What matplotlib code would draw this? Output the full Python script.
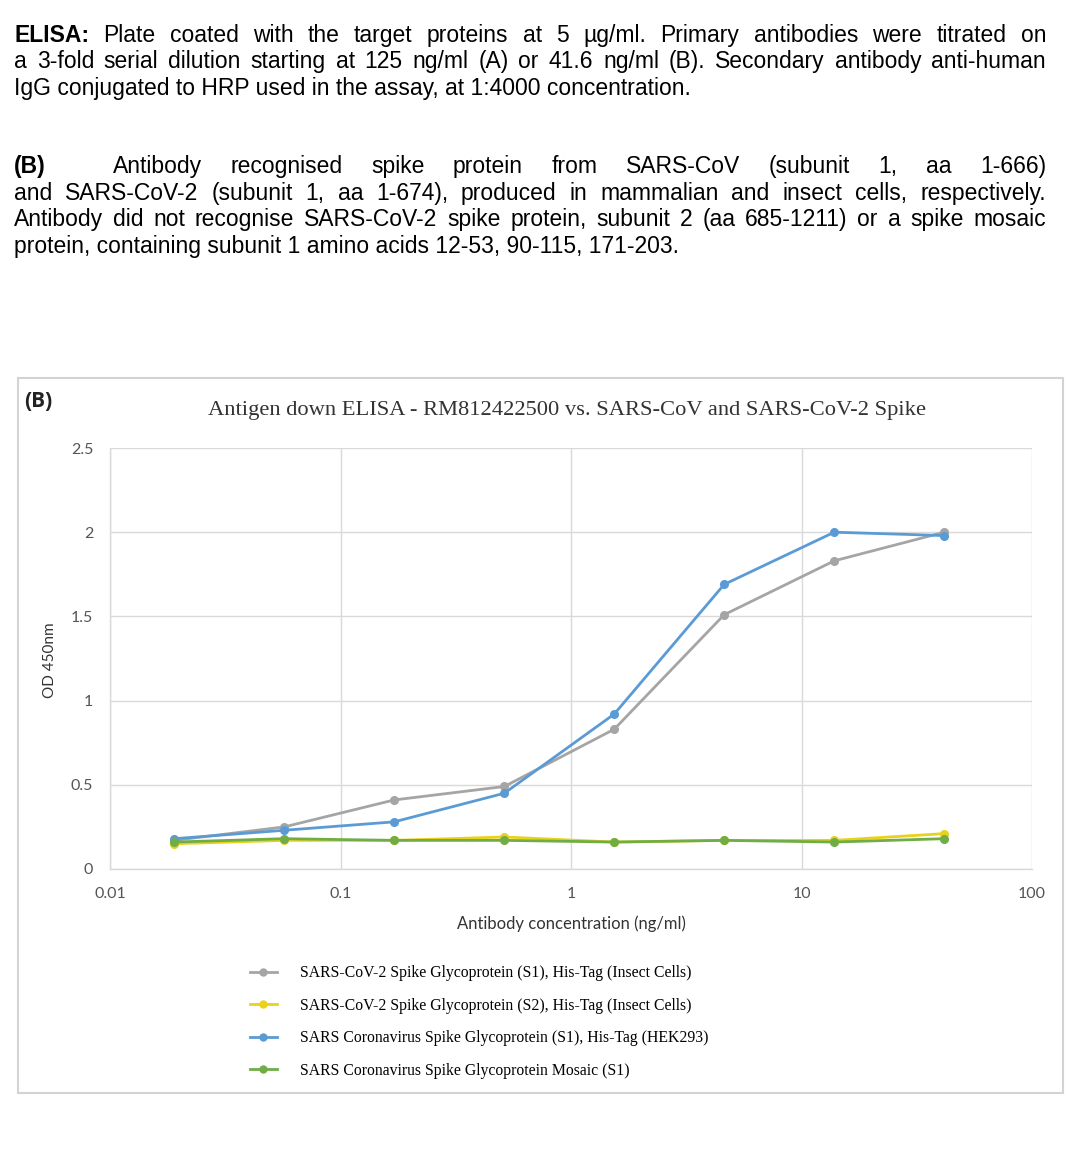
import matplotlib
matplotlib.use('Agg')
import matplotlib.pyplot as plt
from matplotlib.patches import Rectangle
from matplotlib.lines import Line2D

W, H = 1089, 1161

# antibody concentration (ng/ml), 3-fold serial dilution from 41.6
conc = [0.019, 0.057, 0.171, 0.514, 1.54, 4.62, 13.87, 41.6]
s1_insect = [0.17, 0.25, 0.41, 0.49, 0.83, 1.51, 1.83, 2.00]
s2_insect = [0.15, 0.17, 0.17, 0.19, 0.16, 0.17, 0.17, 0.21]
s1_hek = [0.18, 0.23, 0.28, 0.45, 0.92, 1.69, 2.00, 1.98]
mosaic = [0.16, 0.18, 0.17, 0.17, 0.16, 0.17, 0.16, 0.18]

labels = ['SARS-CoV-2 Spike Glycoprotein (S1), His-Tag (Insect Cells)',
          'SARS-CoV-2 Spike Glycoprotein (S2), His-Tag (Insect Cells)',
          'SARS Coronavirus Spike Glycoprotein (S1), His-Tag (HEK293)',
          'SARS Coronavirus Spike Glycoprotein Mosaic (S1)']
colors = ['#A5A5A5', '#E9D21C', '#5B9BD5', '#70AD47']

yticks = [0, 0.5, 1, 1.5, 2, 2.5]
ytick_labels = ['0', '0.5', '1', '1.5', '2', '2.5']
xticks = [0.01, 0.1, 1, 10, 100]
xtick_labels = ['0.01', '0.1', '1', '10', '100']

para1 = [
    ("ELISA: Plate coated with the target proteins at 5 µg/ml. Primary antibodies were titrated on", 42, True),
    ("a 3-fold serial dilution starting at 125 ng/ml (A) or 41.6 ng/ml (B). Secondary antibody anti-human", 68, True),
    ("IgG conjugated to HRP used in the assay, at 1:4000 concentration.", 95, False),
]
para2 = [
    ("Antibody recognised spike protein from SARS-CoV (subunit 1, aa 1-666)", 173, True),
    ("and SARS-CoV-2 (subunit 1, aa 1-674), produced in mammalian and insect cells, respectively.", 200, True),
    ("Antibody did not recognise SARS-CoV-2 spike protein, subunit 2 (aa 685-1211) or a spike mosaic", 226, True),
    ("protein, containing subunit 1 amino acids 12-53, 90-115, 171-203.", 253, False),
]


def fx(x):
    return x / W


def fy(y):
    return 1 - y / H


fig = plt.figure(figsize=(W / 100, H / 100), dpi=100)
fig.patch.set_facecolor('white')
renderer = fig.canvas.get_renderer()
TXT = dict(fontsize=16.5, family='Liberation Sans', color='black', va='baseline')


def justify(line, y, x0, x1, just, bold_first=False):
    words = line.split(' ')
    if not just:
        fig.text(fx(x0), fy(y), line, **TXT)
        return
    objs = []
    total = 0
    for i, w in enumerate(words):
        t = fig.text(0, fy(y), w, fontweight='bold' if (bold_first and i == 0) else 'normal', **TXT)
        total += t.get_window_extent(renderer).width
        objs.append(t)
    gap = (x1 - x0 - total) / (len(words) - 1)
    x = x0
    for t in objs:
        t.set_x(fx(x))
        x += t.get_window_extent(renderer).width + gap


for i, (line, y, just) in enumerate(para1):
    justify(line, y, 14, 1046, just, bold_first=(i == 0))

fig.text(fx(14), fy(173), '(B)', fontweight='bold', **TXT)
for i, (line, y, just) in enumerate(para2):
    justify(line, y, 113 if i == 0 else 14, 1046, just)

# chart frame
fig.patches.append(Rectangle((fx(18), fy(1093)), fx(1063) - fx(18), fy(378) - fy(1093),
                             transform=fig.transFigure, fill=False,
                             edgecolor='#D3D3D3', lw=1.5))
fig.text(fx(24), fy(407), '(B)', fontsize=15, fontweight='bold', family='Open Sans',
         color='#222222', va='baseline')
fig.text(fx(567), fy(411), 'Antigen down ELISA - RM812422500 vs. SARS-CoV and SARS-CoV-2 Spike',
         fontsize=16.2, family='Liberation Serif', color='#333333', ha='center', va='center')

ax = fig.add_axes([fx(110), fy(869), fx(1032) - fx(110), fy(448) - fy(869)])
ax.set_xscale('log')
ax.set_xlim(0.01, 100)
ax.set_ylim(0, 2.5)

series = [s1_insect, s2_insect, s1_hek, mosaic]
for vals, c, lab in zip(series, colors, labels):
    ax.plot(conc, vals, color=c, lw=2, marker='o', ms=5.5, label=lab)

ax.set_xticks(xticks)
ax.set_xticklabels(xtick_labels)
ax.set_yticks(yticks)
ax.set_yticklabels(ytick_labels)
ax.minorticks_off()
ax.tick_params(length=0, labelcolor='#555555', labelsize=11.5, pad=12)
ax.tick_params(axis='x', pad=13)
for lab in ax.get_xticklabels() + ax.get_yticklabels():
    lab.set_family('Lato')
ax.grid(True, color='#D9D9D9', lw=1)
ax.set_axisbelow(True)
for s in ['top', 'right']:
    ax.spines[s].set_visible(False)
for s in ['left', 'bottom']:
    ax.spines[s].set_color('#D9D9D9')
    ax.spines[s].set_linewidth(1)

ax.set_xlabel('Antibody concentration (ng/ml)', fontsize=12, family='Lato', color='#333333', labelpad=10)
fig.text(fx(50), fy(660), 'OD 450nm', rotation=90, fontsize=11, family='Lato',
         color='#333333', ha='center', va='center')

handles = [Line2D([], [], color=c, lw=2, marker='o', ms=5) for c in colors]
ax.legend(handles, labels, loc='upper left', bbox_to_anchor=(fx(236), fy(951)),
          bbox_transform=fig.transFigure, frameon=False,
          prop={'family': 'Liberation Serif', 'size': 11.3},
          handlelength=1.7, handletextpad=1.45, labelspacing=1.05)

fig.savefig('out.png', dpi=100, facecolor='white')
